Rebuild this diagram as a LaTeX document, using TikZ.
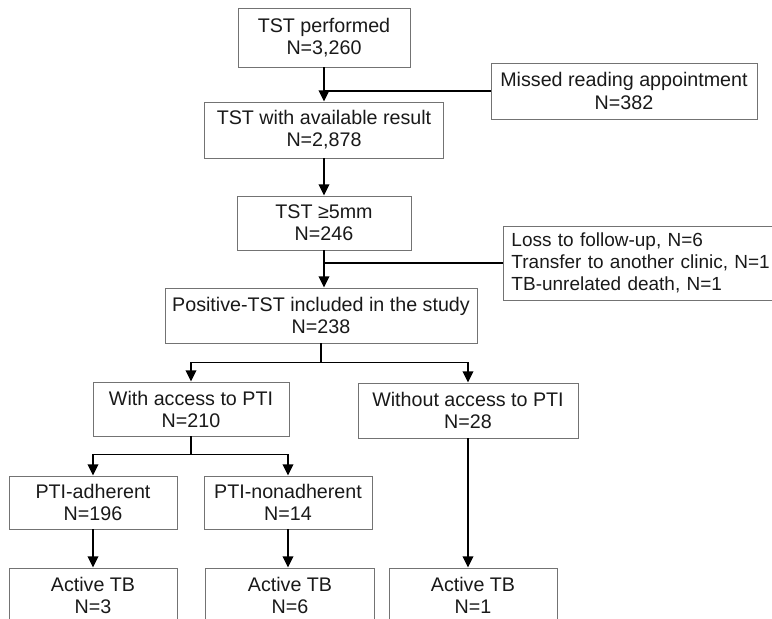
\documentclass[tikz,border=0pt]{standalone}
\usepackage{fontspec}
\setmainfont{Liberation Sans}
\usetikzlibrary{arrows.meta}
\begin{document}
\begin{tikzpicture}[x=.025cm,y=-.025cm,font=\fontsize{14}{15.7}\selectfont,
 box/.style={draw=black!55,line width=.7pt,align=center,inner sep=0pt,text=black!90},
 link/.style={line width=1.3pt},arr/.style={link,-{Triangle[length=8pt,width=7.5pt]}}]
\useasboundingbox(0,0)rectangle(772,619);\clip(0,0)rectangle(772,619);
\foreach\n/\x/\y/\w/\h/\t in{A/324/37.5/172/59/{TST performed\\N=3,260},M/624/91/266/56/{Missed reading appointment\\N=382},
 B/324/130/239/56/{TST with available result\\N=2,878},C/324/223/174/54/{TST ≥5mm\\N=246},D/321/315.5/312/55/{Positive-TST included in the study\\N=238},
 E/191/409/196/54/{With access to PTI\\N=210},F/468/410.5/220/55/{Without access to PTI\\N=28},
 G/93/502.5/168/53/{PTI-adherent\\N=196},H/288/502.5/168/53/{PTI-nonadherent\\N=14},
 I/93/595/168/54/{Active TB\\N=3},J/290/595/169/54/{Active TB\\N=6},K/473/595/168/54/{Active TB\\N=1}}
 {\node[box,minimum width=\w*.025cm,minimum height=\h*.025cm](\n)at(\x,\y){\t};}
\node[box,anchor=west,align=left,text width=9cm,inner xsep=.2cm,minimum height=1.85cm,font=\fontsize{13.5}{15.7}\selectfont](L)at(503,263){Loss to follow-up, N=6\\Transfer to another clinic, N=1\\TB-unrelated death, N=1};
% main line
\draw[arr](A)--(B);\draw[link](A.south|-M.west)--(M.west);
\draw[arr](B)--(C);\draw[arr](C.south)--(C.south|-D.north);\draw[link](C.south|-L.west)--(L.west);
% branches
\draw[arr](D.south)--++(0,19)-|(E.north);\draw[arr](D.south)--++(0,19)-|(F.north);
\draw[arr](E.south)--++(0,18)-|(G.north);\draw[arr](E.south)--++(0,18)-|(H.north);
\draw[arr](G)--(I);\draw[arr](H.south)--(H.south|-J.north);\draw[arr](F.south)--(F.south|-K.north);
\end{tikzpicture}
\end{document}
